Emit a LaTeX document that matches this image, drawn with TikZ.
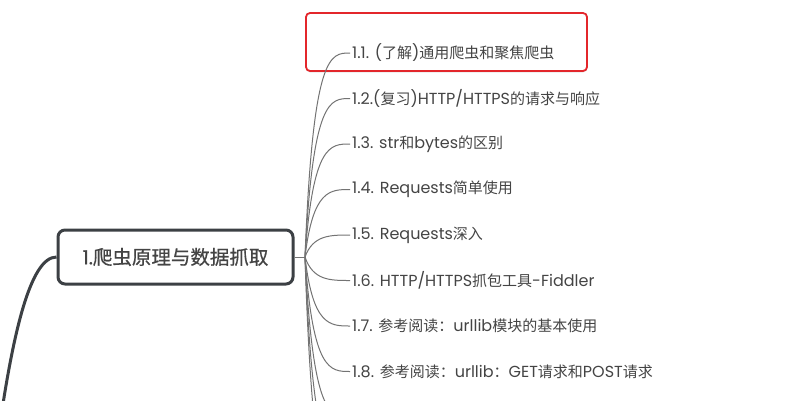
\documentclass[tikz,border=0pt]{standalone}
\usepackage{fontspec}
\setmainfont{Poppins}
\newfontfamily\cjk{Noto Sans CJK SC}
\newfontfamily\cjkmed{Noto Sans CJK SC}[FakeBold=0.6]
\newfontfamily\latmed{Poppins}[FakeBold=0.4]
\newcommand{\zh}[1]{{\cjk\fontsize{15}{17}\selectfont #1}}
\usetikzlibrary{shadows}
\definecolor{txt}{HTML}{444444}
\definecolor{branch}{HTML}{737373}
\definecolor{mainline}{HTML}{3C4044}
\definecolor{hl}{HTML}{E3262B}
\tikzset{
  topic/.style={draw=mainline, line width=3pt, rounded corners=7pt, fill=white,
    minimum width=235pt, minimum height=54pt, text=txt, font=\fontsize{19.5}{22}\selectfont},
  sub/.style={anchor=west, inner sep=2pt, text=txt, font=\fontsize{16}{17}\selectfont},
  conn/.style={draw=branch, line width=1pt},
  mainconn/.style={draw=mainline, line width=3pt},
  highlight/.style={draw=hl, line width=1.8pt, rounded corners=4pt, fill=white,
    drop shadow={opacity=0.18, shadow xshift=0pt, shadow yshift=-1.5pt}}
}
\begin{document}
\begin{tikzpicture}[x=1pt,y=-1pt]
\useasboundingbox (0,0) rectangle (808,400);
\clip (0,0) rectangle (808,400);
% highlight box
\draw[highlight] (306,13) rectangle (587,71);
% central topic
\node[topic] (main) at (175.5,257) {{\latmed 1.}{\cjkmed 爬虫原理与数据抓取}};
\coordinate (hub) at (305,257);
\coordinate (root) at (-3,445);
\draw[mainconn] (main.west) .. controls (30,257) and (12,335) .. (root);
\draw[conn] (main.east) -- (hub);
% children
\node[sub] (c1) at (350,53) {1.1. (\zh{了解})\zh{通用爬虫和聚焦爬虫}};
\node[sub] (c2) at (350,98.5) {1.2.(\zh{复习})HTTP/HTTPS\zh{的请求与响应}};
\node[sub] (c3) at (350,144) {1.3. str\zh{和}bytes\zh{的区别}};
\node[sub] (c4) at (350,189.5) {1.4. Requests\zh{简单使用}};
\node[sub] (c5) at (350,235) {1.5. Requests\zh{深入}};
\node[sub] (c6) at (350,280.5) {1.6. HTTP/HTTPS\zh{抓包工具}-Fiddler};
\node[sub] (c7) at (350,326) {1.7. \zh{参考阅读：}urllib\zh{模块的基本使用}};
\node[sub] (c8) at (350,371.5) {1.8. \zh{参考阅读：}urllib\zh{：}GET\zh{请求和}POST\zh{请求}};
\coordinate (c9) at (350,417);
\coordinate (c10) at (350,462.5);
\coordinate (c11) at (350,508);
\foreach \c in {c1,c2,c3,c4,c5,c6,c7,c8}{
  \draw[conn] (hub) .. controls ([xshift=8pt]hub |- \c.west) and ([xshift=-20pt]\c.west) .. (\c.west);
}
\foreach \c in {c9,c10,c11}{
  \draw[conn] (hub) .. controls ([xshift=8pt]hub |- \c) and ([xshift=-20pt]\c) .. (\c);
}
\end{tikzpicture}
\end{document}
